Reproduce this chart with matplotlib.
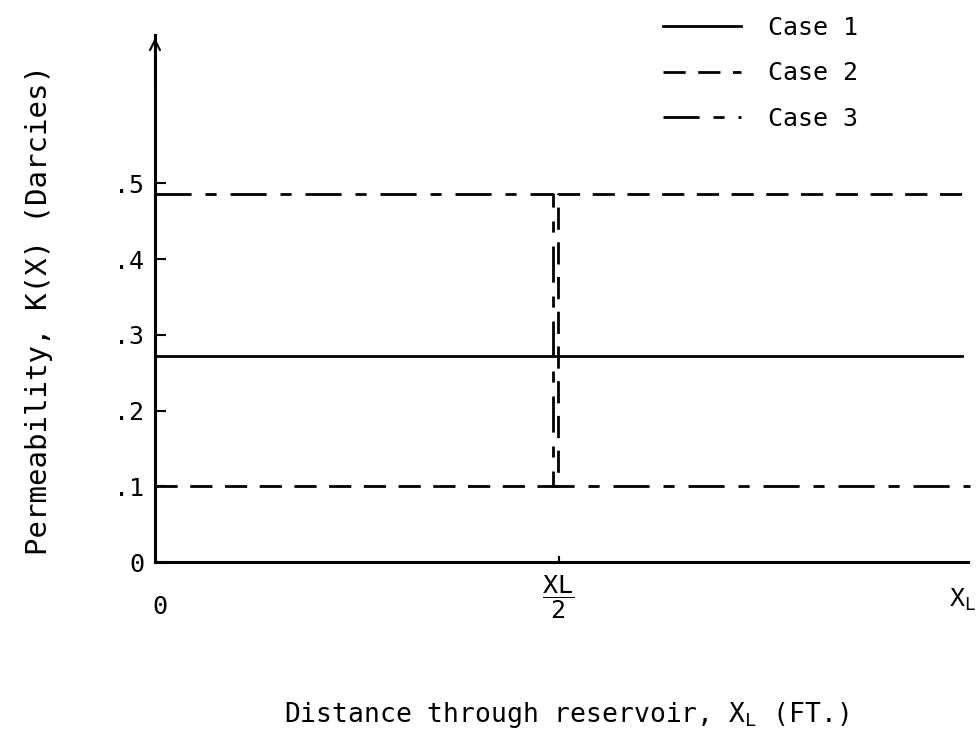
import matplotlib.pyplot as plt

plt.rcParams['font.family'] = ['DejaVu Sans Mono']
plt.rcParams['mathtext.fontset'] = 'custom'
plt.rcParams['mathtext.rm'] = 'DejaVu Sans Mono'

# permeability profiles, x in units of XL
case1_x = [0.0, 1.0]
case1_k = [0.272, 0.272]

case2_x = [0.0, 0.499, 0.499, 1.01]
case2_k = [0.10, 0.10, 0.486, 0.486]

case3_x = [0.0, 0.493, 0.493, 1.01]
case3_k = [0.486, 0.486, 0.10, 0.10]

y_ticks = [0.0, 0.1, 0.2, 0.3, 0.4, 0.5]
y_tick_labels = ['0', '.1', '.2', '.3', '.4', '.5']

fig = plt.figure(figsize=(9.77, 7.42), dpi=100)
ax = fig.add_axes([155 / 977, 1 - 562 / 742, 813 / 977, 527 / 742])

ax.plot(case1_x, case1_k, color='black', linewidth=2, label='Case 1',
        clip_on=False)
ax.plot(case2_x, case2_k, color='black', linewidth=2,
        linestyle=(0, (8, 4.5)), label='Case 2', clip_on=False)
ax.plot(case3_x, case3_k, color='black', linewidth=2,
        linestyle=(0, (13, 5, 4, 5)), label='Case 3', clip_on=False)

ax.set_xlim(0, 813 / 807)
ax.set_ylim(0, 527 / 757.5)

for side in ['top', 'right']:
    ax.spines[side].set_visible(False)
for side in ['left', 'bottom']:
    ax.spines[side].set_linewidth(2.2)

# arrow on the top of the y axis
ax.annotate('', xy=(0, 1.0), xytext=(0, 0.9), xycoords='axes fraction',
            arrowprops=dict(arrowstyle='->', color='black', lw=1.5,
                            mutation_scale=18))

ax.set_yticks(y_ticks)
ax.set_yticklabels(y_tick_labels)
ax.tick_params(axis='y', direction='in', length=8, width=1.5, pad=8,
               labelsize=18)

ax.set_xticks([0.5])
ax.set_xticklabels([''])
ax.tick_params(axis='x', direction='in', length=4, width=1.5)

xt = ax.get_xaxis_transform()
ax.text(0.006, -0.085, '0', transform=xt, ha='center', va='center',
        fontsize=18)
ax.text(0.5, -0.067, '$\\dfrac{\\mathrm{XL}}{\\mathrm{2}}$', transform=xt,
        ha='center', va='center', fontsize=18)
ax.text(1.0, -0.072, 'X$_{\\mathrm{L}}$', transform=xt, ha='center',
        va='center', fontsize=18)

ax.set_xlabel('Distance through reservoir, X$_{\\mathrm{L}}$ (FT.)',
              fontsize=19)
ax.xaxis.set_label_coords(0.5055, -0.262)
ax.set_ylabel('Permeability, K(X) (Darcies)', fontsize=21)
ax.yaxis.set_label_coords(-0.125, 0.478)

ax.legend(loc='upper left', bbox_to_anchor=(663 / 977, 1 - 16 / 742),
          bbox_transform=fig.transFigure, frameon=False, fontsize=18,
          handlelength=3.1, handletextpad=1.1, borderpad=0,
          borderaxespad=0, labelspacing=0.85)

fig.savefig('out.png', dpi=100)
